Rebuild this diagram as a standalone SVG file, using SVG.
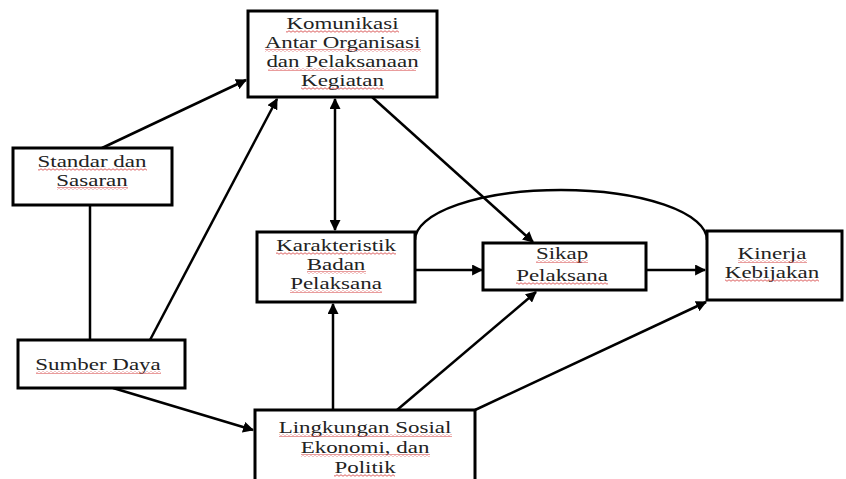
<svg xmlns="http://www.w3.org/2000/svg" width="846" height="479" viewBox="0 0 846 479">
<defs>
<style>
.box{fill:#fff;stroke:#000;stroke-width:3}
.t{font-family:'Liberation Serif','DejaVu Serif','Times New Roman',serif;font-size:17px;fill:#222;text-anchor:middle}
.c{fill:none;stroke:#000;stroke-width:2.5}
.w{fill:url(#wave)}
</style>
<pattern id="wave" x="0" y="0" width="4" height="3" patternUnits="userSpaceOnUse">
<path d="M0,1.5 Q1,0 2,1.5 T4,1.5" fill="none" stroke="#d85050" stroke-width="0.9"/>
</pattern>
<marker id="ah" viewBox="0 0 10 10" refX="9" refY="5" markerWidth="4.4" markerHeight="4.4" orient="auto-start-reverse" markerUnits="strokeWidth">
<path d="M0,0 L10,5 L0,10 z" fill="#000"/>
</marker>
</defs>
<rect width="846" height="479" fill="#fff"/>
<g id="connectors">
<line class="c" x1="102" y1="148" x2="246" y2="80" marker-end="url(#ah)"/>
<line class="c" x1="150" y1="340" x2="277" y2="99" marker-end="url(#ah)"/>
<line class="c" x1="90" y1="205" x2="90" y2="340"/>
<line class="c" x1="113" y1="388" x2="253" y2="430" marker-end="url(#ah)"/>
<line class="c" x1="335" y1="99" x2="335" y2="230" marker-start="url(#ah)" marker-end="url(#ah)"/>
<line class="c" x1="372" y1="97" x2="533" y2="242" marker-end="url(#ah)"/>
<line class="c" x1="415" y1="270" x2="482" y2="270" marker-end="url(#ah)"/>
<line class="c" x1="646" y1="270" x2="705" y2="270" marker-end="url(#ah)"/>
<line class="c" x1="333" y1="410" x2="333" y2="304" marker-end="url(#ah)"/>
<line class="c" x1="397" y1="410" x2="536" y2="292" marker-end="url(#ah)"/>
<line class="c" x1="475" y1="410" x2="706" y2="302" marker-end="url(#ah)"/>
<path class="c" d="M415,240 A146,50 0 0 1 707,240"/>
</g>
<g id="komunikasi">
<rect class="box" x="248" y="11" width="189" height="86"/>
<text class="t" transform="translate(342.5,29) scale(1.35,1)">Komunikasi</text>
<text class="t" transform="translate(342.5,48) scale(1.35,1)">Antar Organisasi</text>
<text class="t" transform="translate(342.5,67) scale(1.35,1)">dan Pelaksanaan</text>
<text class="t" transform="translate(342.5,86) scale(1.35,1)">Kegiatan</text>
<rect class="w" x="286" y="30" width="113" height="3"/>
<rect class="w" x="265" y="49" width="156" height="3"/>
<rect class="w" x="268" y="68" width="148" height="3"/>
<rect class="w" x="301" y="87" width="83" height="3"/>
</g>
<g id="standar">
<rect class="box" x="13" y="148" width="159" height="57"/>
<text class="t" transform="translate(92,167) scale(1.35,1)">Standar dan</text>
<text class="t" transform="translate(92,186) scale(1.35,1)">Sasaran</text>
<rect class="w" x="38" y="168" width="109" height="3"/>
<rect class="w" x="57" y="187" width="71" height="3"/>
</g>
<g id="sumber">
<rect class="box" x="18" y="340" width="167" height="48"/>
<text class="t" transform="translate(98,370) scale(1.35,1)">Sumber Daya</text>
<rect class="w" x="36" y="371" width="125" height="3"/>
</g>
<g id="karakteristik">
<rect class="box" x="257" y="232" width="158" height="70"/>
<text class="t" transform="translate(336,251) scale(1.35,1)">Karakteristik</text>
<text class="t" transform="translate(336,270) scale(1.35,1)">Badan</text>
<text class="t" transform="translate(336,289) scale(1.35,1)">Pelaksana</text>
<rect class="w" x="276" y="252" width="120" height="3"/>
<rect class="w" x="307" y="271" width="59" height="3"/>
<rect class="w" x="290" y="290" width="92" height="3"/>
</g>
<g id="sikap">
<rect class="box" x="483" y="243" width="163" height="47"/>
<text class="t" transform="translate(562,259) scale(1.35,1)">Sikap</text>
<text class="t" transform="translate(562,281) scale(1.35,1)">Pelaksana</text>
<rect class="w" x="536" y="260" width="52" height="3"/>
<rect class="w" x="516" y="282" width="92" height="3"/>
</g>
<g id="kinerja">
<rect class="box" x="707" y="231" width="135" height="69"/>
<text class="t" transform="translate(772,259) scale(1.35,1)">Kinerja</text>
<text class="t" transform="translate(772,278) scale(1.35,1)">Kebijakan</text>
<rect class="w" x="738" y="260" width="69" height="3"/>
<rect class="w" x="725" y="279" width="94" height="3"/>
</g>
<g id="lingkungan">
<rect class="box" x="255" y="410" width="220" height="80"/>
<text class="t" transform="translate(365,433) scale(1.35,1)">Lingkungan Sosial</text>
<text class="t" transform="translate(365,453) scale(1.35,1)">Ekonomi, dan</text>
<text class="t" transform="translate(365,473) scale(1.35,1)">Politik</text>
<rect class="w" x="279" y="434" width="173" height="3"/>
<rect class="w" x="301" y="454" width="129" height="3"/>
<rect class="w" x="334" y="474" width="61" height="3"/>
</g>
</svg>
